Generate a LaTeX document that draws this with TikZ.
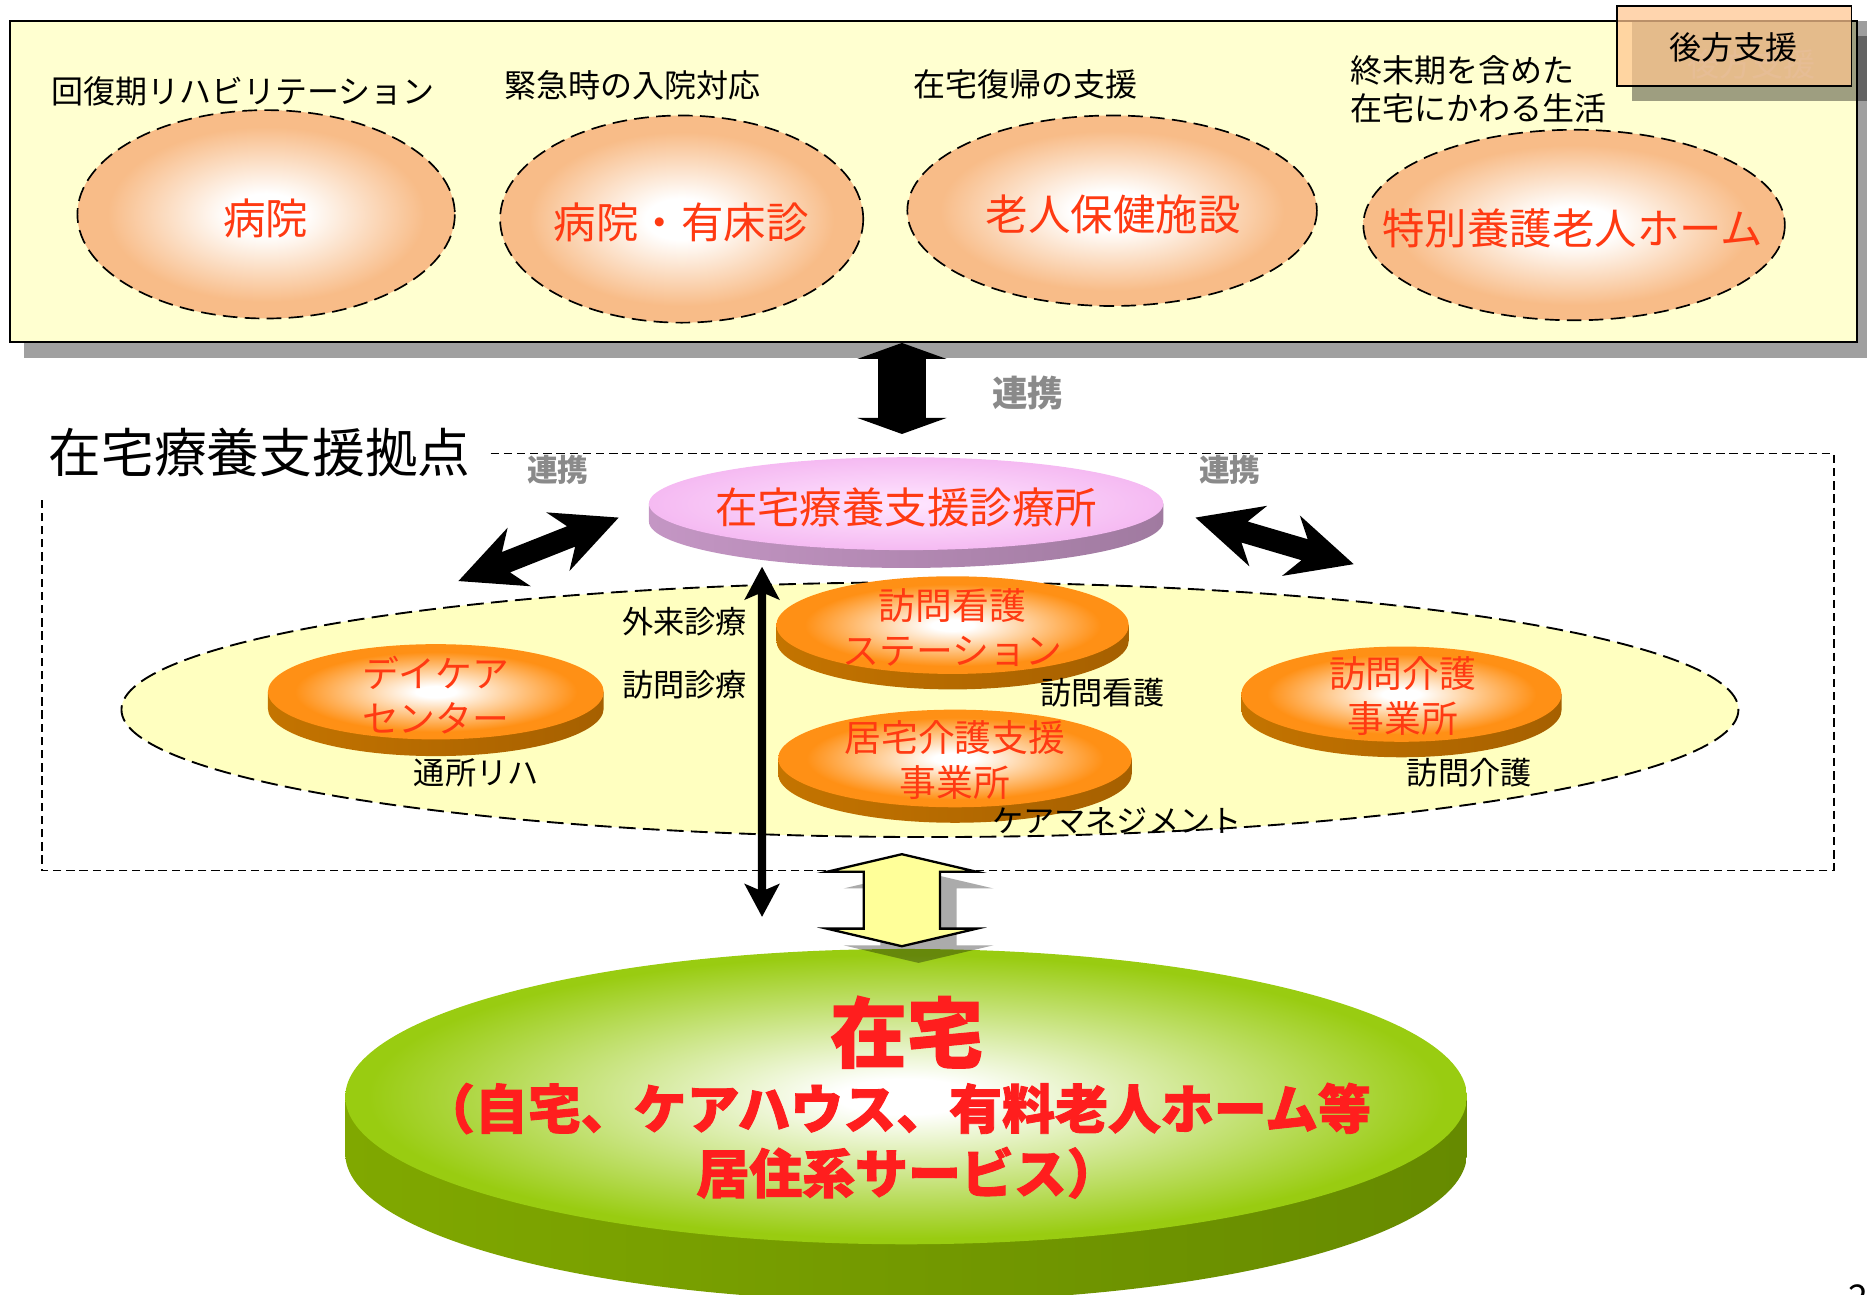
\documentclass[tikz,border=0pt]{standalone}
\usepackage{fontspec}
\newfontfamily\jp{Noto Sans CJK JP}
\newfontfamily\jpheavy{Noto Sans CJK JP}[BoldFeatures={FakeBold=1.6}]
\newfontfamily\jphalt{Noto Sans CJK JP}[RawFeature=+halt, BoldFeatures={FakeBold=1.6}]
\usetikzlibrary{calc}
\definecolor{boxyellow}{HTML}{FFFFD0}
\definecolor{shadowgray}{HTML}{A0A0A0}
\definecolor{peachedge}{HTML}{F8BC88}
\definecolor{redtxt}{HTML}{FF3A12}
\definecolor{kohofill}{HTML}{FFC690}
\definecolor{renkeigray}{HTML}{8A8A8A}
\definecolor{ellyellow}{HTML}{FFFFC0}
\definecolor{pinkcenter}{HTML}{FFE6FF}
\definecolor{pinkedge}{HTML}{F5BAF2}
\definecolor{pinkside1}{HTML}{C496C4}
\definecolor{pinkside2}{HTML}{A07AA0}
\definecolor{orangeedge}{HTML}{FF9015}
\definecolor{orangeside1}{HTML}{C47400}
\definecolor{orangeside2}{HTML}{A66000}
\definecolor{greenedge}{HTML}{99CC11}
\definecolor{greenside1}{HTML}{80A800}
\definecolor{greenside2}{HTML}{668A00}
\definecolor{arrowyellow}{HTML}{FFFF99}
\definecolor{zaitakured}{HTML}{FF1E1E}
\pgfdeclareradialshading{peachshade}{\pgfpoint{0bp}{0bp}}{color(0bp)=(white); color(5bp)=(white); color(21bp)=(peachedge); color(50bp)=(peachedge)}
\pgfdeclareradialshading{orangeshade}{\pgfpoint{0bp}{0bp}}{color(0bp)=(white); color(3bp)=(white); color(21bp)=(orangeedge); color(50bp)=(orangeedge)}
\pgfdeclareradialshading{pinkshade}{\pgfpoint{0bp}{0bp}}{color(0bp)=(pinkcenter); color(25bp)=(pinkedge); color(50bp)=(pinkedge)}
\pgfdeclareradialshading{greenshade}{\pgfpoint{0bp}{0bp}}{color(0bp)=(white); color(3bp)=(white); color(24bp)=(greenedge); color(50bp)=(greenedge)}
% two-way block arrow: #1 A, #2 B, #3 head length, #4 head half width, #5 notch distance, #6 shaft half width, #7 style
\newcommand\twowayarrow[7]{%
  \coordinate (hbB) at ($(#2)!#3!(#1)$);
  \coordinate (nbB) at ($(#2)!#5!(#1)$);
  \coordinate (hbA) at ($(#1)!#3!(#2)$);
  \coordinate (nbA) at ($(#1)!#5!(#2)$);
  \path[#7] (#2) -- ($(hbB)!#4!90:(#2)$) -- ($(nbB)!#6!90:(#2)$) -- ($(nbA)!#6!90:(#2)$) -- ($(hbA)!#4!90:(#2)$) -- (#1) -- ($(hbA)!#4!-90:(#2)$) -- ($(nbA)!#6!-90:(#2)$) -- ($(nbB)!#6!-90:(#2)$) -- ($(hbB)!#4!-90:(#2)$) -- cycle;}
% disk: #1 name, #2 x, #3 y, #4 rx, #5 ry, #6 thickness, #7 side style, #8 top shading
\newcommand\mydisk[8]{%
  \path[#7] (#2-#4,#3) -- (#2-#4,#3+#6) arc[start angle=180,end angle=0,x radius=#4,y radius=#5] -- (#2+#4,#3) -- cycle;
  \shade[shading=#8] (#2,#3) ellipse[x radius=#4,y radius=#5];
  \coordinate (#1) at (#2,#3);}
\tikzset{
  every node/.style={inner sep=0pt, outer sep=0pt},
  toplab/.style={font=\jp\fontsize{15.3}{32pt}\selectfont, text=black},
  redbig/.style={font=\jp\fontsize{20.3}{24}\selectfont, text=redtxt},
  disktxt/.style={font=\jp\fontsize{17.6}{21.3}\selectfont, text=redtxt, align=center},
  smalllab/.style={font=\jp\fontsize{14.9}{18}\selectfont, text=black},
  graylab/.style={font=\jp\bfseries\fontsize{14.7}{17}\selectfont, text=renkeigray},
  ovaldash/.style={draw=black, line width=0.8pt, dash pattern=on 7pt off 3.5pt},
  bigdash/.style={draw=black, line width=0.9pt, dash pattern=on 8pt off 3.5pt},
  rectdash/.style={draw=black, line width=0.8pt, dash pattern=on 4pt off 2.3pt},
}
\begin{document}
\begin{tikzpicture}[x=0.02cm,y=-0.02cm]
\useasboundingbox (0,0) rectangle (1568,1087.6);

% ---------- top box (backup support) ----------
\fill[shadowgray] (20.5,30.5) rectangle (1572,300.5);
\draw[fill=boxyellow, line width=1.1pt] (8.5,17.5) rectangle (1559.5,287);

\shadedraw[shading=peachshade, ovaldash] (223.5,180) ellipse[x radius=158.5, y radius=87.5];
\shadedraw[shading=peachshade, ovaldash] (572.5,184) ellipse[x radius=152.5, y radius=87];
\shadedraw[shading=peachshade, ovaldash] (934,177) ellipse[x radius=172, y radius=80];
\shadedraw[shading=peachshade, ovaldash] (1322,189) ellipse[x radius=177, y radius=80];

\node[redbig] (hosp) at (223,183) {病院};
\node[redbig] (hospclinic) at (572,187) {病院・有床診};
\node[redbig] (rouken) at (935,180) {老人保健施設};
\node[redbig] (tokuyou) at (1321,192) {特別養護老人ホーム};

\node[toplab] (lab1) at (204,76.5) {回復期リハビリテーション};
\node[toplab] (lab2) at (531,72) {緊急時の入院対応};
\node[toplab] (lab3) at (861,71) {在宅復帰の支援};
\node[toplab, anchor=west] (lab4) at (1134.5,59) {終末期を含めた};
\node[toplab, anchor=west] (lab5) at (1134.5,91) {在宅にかわる生活};

% backup-support tag
\fill[black, opacity=0.38] (1371,18) rectangle (1568,85);
\node[toplab, text=gray!70] (kohoghost) at (1471,54) {後方支援};
\draw[fill=kohofill, fill opacity=0.73, line width=0.9pt] (1358,5) rectangle (1555,72);
\node[toplab] (koho) at (1456,40) {後方支援};

% ---------- big link arrow ----------
\coordinate (bigA) at (757.5,288);
\coordinate (bigB) at (757.5,364.5);
\twowayarrow{bigA}{bigB}{0.27cm}{0.75cm}{0.27cm}{0.4cm}{fill=black}
\node[font=\jp\bfseries\fontsize{17}{20}\selectfont, text=renkeigray] (renkei0) at (863,330) {連携};

% ---------- home care support base ----------
\draw[rectdash] (412,381) -- (1540,381) -- (1540,731) -- (35,731) -- (35,416);
\node[font=\jp\fontsize{25.2}{30}\selectfont] (kyoten) at (218,380) {在宅療養支援拠点};
\node[graylab] (renkeiL) at (468.6,394.5) {連携};
\node[graylab] (renkeiR) at (1033,394.5) {連携};

\draw[bigdash, fill=ellyellow] (781,596) ellipse[x radius=679, y radius=107];

% clinic disk
\mydisk{clinicdisk}{761}{423}{216}{39}{15}{left color=pinkside1, right color=pinkside2}{pinkshade}
\node[redbig] (clinic) at (761,426) {在宅療養支援診療所};

% diagonal link arrows
\coordinate (laA) at (385,488);
\coordinate (laB) at (519.6,434.7);
\twowayarrow{laA}{laB}{1.1cm}{0.53cm}{0.86cm}{0.184cm}{fill=black}
\coordinate (raA) at (1004,434.7);
\coordinate (raB) at (1136.9,473.8);
\twowayarrow{raA}{raB}{1.1cm}{0.53cm}{0.86cm}{0.184cm}{fill=black}

% service disks
\mydisk{nursedisk}{800}{525}{148}{41}{13}{left color=orangeside1, right color=orangeside2}{orangeshade}
\mydisk{daycaredisk}{366}{581}{141}{40}{14}{left color=orangeside1, right color=orangeside2}{orangeshade}
\mydisk{homecaredisk}{1177}{583}{134.5}{40}{13}{left color=orangeside1, right color=orangeside2}{orangeshade}
\mydisk{caremgrdisk}{802}{637}{148.5}{41}{13}{left color=orangeside1, right color=orangeside2}{orangeshade}

\node[disktxt] (nurse) at (800,527) {訪問看護\\ステーション};
\node[disktxt] (daycare) at (366,584) {デイケア\\センター};
\node[disktxt] (homecare) at (1178,584.5) {訪問介護\\事業所};
\node[disktxt] (caremgr) at (802,638.5) {居宅介護支援\\事業所};

\node[smalllab] (gairai) at (575,522) {外来診療};
\node[smalllab] (houmonshin) at (575,575) {訪問診療};
\node[smalllab] (tsusho) at (400,649) {通所リハ};
\node[smalllab] (houmonkan) at (926,582) {訪問看護};
\node[smalllab] (houmonkai) at (1234,649) {訪問介護};
\node[smalllab] (caremgmt) at (938,689) {ケアマネジメント};

% vertical thin arrow
\coordinate (vaA) at (640,476);
\coordinate (vaB) at (640,770);
\twowayarrow{vaA}{vaB}{0.56cm}{0.3cm}{0.46cm}{0.07cm}{fill=black}

% ---------- home (green disk) ----------
\mydisk{homedisk}{761}{921}{471}{124}{48}{left color=greenside1, right color=greenside2}{greenshade}

% yellow arrow with shadow
\coordinate (yasA) at (771.4,731.4);
\coordinate (yasB) at (771.4,808.7);
\twowayarrow{yasA}{yasB}{0.296cm}{1.26cm}{0.296cm}{0.64cm}{fill=black, fill opacity=0.33}
\coordinate (yaA) at (757.4,717.4);
\coordinate (yaB) at (757.4,794.7);
\twowayarrow{yaA}{yaB}{0.296cm}{1.26cm}{0.296cm}{0.64cm}{fill=arrowyellow, draw=black, line width=1.1pt, line join=miter}

\node[font=\jpheavy\bfseries\fontsize{36.5}{40}\selectfont, text=zaitakured] (zaitaku) at (761.5,867) {在宅};
\node[font=\jpheavy\bfseries\fontsize{25.3}{30}\selectfont, text=zaitakured] (zaitaku2) at (764,931) {{\jphalt （}自宅、ケアハウス、有料老人ホーム等};
\node[font=\jpheavy\bfseries\fontsize{25.3}{30}\selectfont, text=zaitakured] (zaitaku3) at (751.5,985) {居住系サービス{\jphalt ）}};

\node[font=\jp\fontsize{17}{20}\selectfont, anchor=north east] (pagenum) at (1569,1079) {2};
\end{tikzpicture}
\end{document}
